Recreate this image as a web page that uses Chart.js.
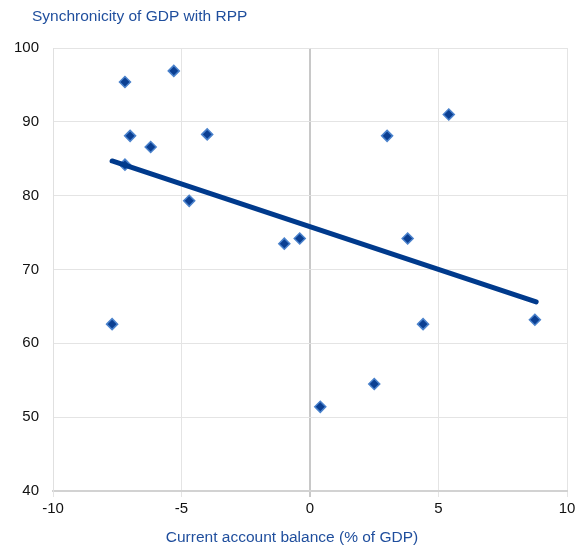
<!DOCTYPE html>
<html>
<head>
<meta charset="utf-8">
<script src="https://cdn.jsdelivr.net/npm/chart.js@4/dist/chart.umd.min.js"></script>
<style>
  body { margin: 0; background: #fff; }
  #wrap { width: 582px; height: 549px; }
</style>
</head>
<body>
<div id="wrap"><canvas id="chart" width="582" height="549"></canvas></div>
<script>
// Current account balance (% of GDP) vs synchronicity of GDP with RPP
const caBalance = [-7.2, -5.3, -7.0, -6.2, -4.0, -7.2, -4.7, -1.0, -0.4, -7.7, 0.4, 2.5, 3.0, 3.8, 5.4, 4.4, 8.75];
const synchronicity = [95.4, 96.9, 88.1, 86.6, 88.3, 84.2, 79.3, 73.5, 74.2, 62.6, 51.4, 54.5, 88.1, 74.2, 91.0, 62.6, 63.2];

// fitted trend line end points
const trendX = [-7.7, 8.8];
const trendY = [84.7, 65.6];

const chartTitle = 'Synchronicity of GDP with RPP';
const xAxisTitle = 'Current account balance (% of GDP)';

const blueText = '#1f4e9d';
const fontFamily = '"Liberation Sans", Arial, sans-serif';

// simple plugin for the two captions (top-left title, x axis title)
const captions = {
    id: 'captions',
    afterDraw(chart) {
        const ctx = chart.ctx;
        ctx.save();
        ctx.fillStyle = blueText;
        ctx.font = '15.5px ' + fontFamily;
        ctx.textBaseline = 'middle';
        ctx.textAlign = 'left';
        ctx.fillText(chartTitle, 32, 17);
        ctx.textAlign = 'center';
        ctx.fillText(xAxisTitle, 292, 538);
        ctx.restore();
    }
};

const ctx = document.getElementById('chart').getContext('2d');
new Chart(ctx, {
    type: 'scatter',
    data: {
        datasets: [
            {
                type: 'line',
                data: trendX.map((x, i) => ({ x: x, y: trendY[i] })),
                borderColor: '#003a8c',
                borderWidth: 5,
                borderCapStyle: 'round',
                pointRadius: 0,
                fill: false,
                order: 0
            },
            {
                data: caBalance.map((x, i) => ({ x: x, y: synchronicity[i] })),
                pointStyle: 'rectRot',
                pointRadius: 5.5,
                backgroundColor: '#0b3f92',
                borderColor: '#4a82cc',
                borderWidth: 1.5,
                order: 1
            }
        ]
    },
    options: {
        responsive: false,
        animation: false,
        layout: { padding: { top: 48, right: 15, bottom: 0, left: 0 } },
        plugins: {
            legend: { display: false },
            tooltip: { enabled: false },
            title: { display: false }
        },
        scales: {
            x: {
                type: 'linear',
                min: -10,
                max: 10,
                afterFit: (scale) => { scale.height = 58; },
                ticks: {
                    stepSize: 5,
                    color: '#111',
                    padding: 3,
                    font: { family: fontFamily, size: 15 }
                },
                grid: {
                    color: (c) => (c.tick && c.tick.value === 0 ? '#c8c8c8' : '#e4e4e4'),
                    lineWidth: (c) => (c.tick && c.tick.value === 0 ? 2 : 1),
                    tickLength: 6,
                    drawTicks: true
                },
                border: { color: '#d2d2d2', width: 2 }
            },
            y: {
                min: 40,
                max: 100,
                afterFit: (scale) => { scale.width = 53; },
                ticks: {
                    stepSize: 10,
                    color: '#111',
                    padding: 14,
                    font: { family: fontFamily, size: 15 }
                },
                grid: {
                    color: '#e4e4e4',
                    lineWidth: 1,
                    drawTicks: false
                },
                border: { color: '#e0e0e0', width: 1 }
            }
        }
    },
    plugins: [captions]
});
</script>
</body>
</html>
